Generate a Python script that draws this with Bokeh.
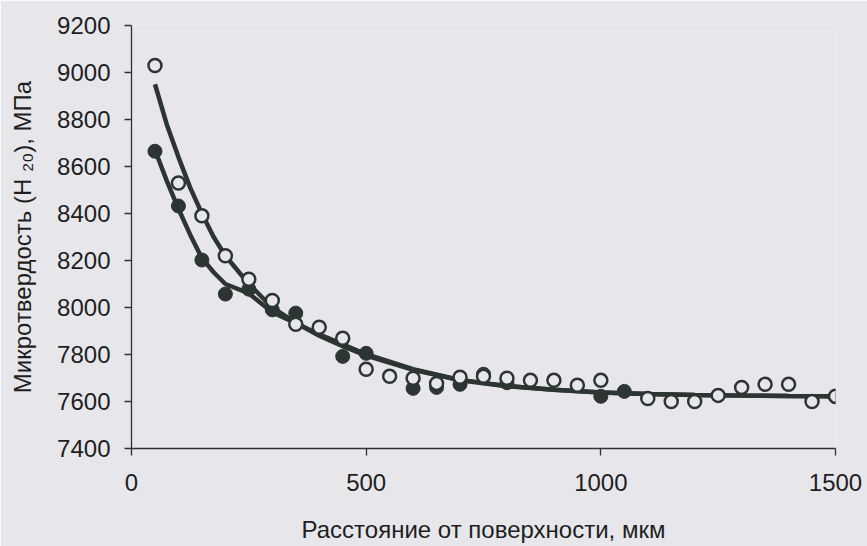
from bokeh.plotting import figure
from bokeh.models import Range1d, FixedTicker
from bokeh.embed import file_html
from bokeh.resources import INLINE

# Open circles (measured values)
open_x = [50, 100, 150, 200, 250, 300, 350, 400, 450, 500, 550, 600, 650, 700, 750,
          800, 850, 900, 950, 1000, 1100, 1150, 1200, 1250, 1300, 1350, 1400, 1450, 1500]
open_y = [9030, 8530, 8390, 8220, 8120, 8030, 7929, 7916, 7869, 7737, 7707, 7699, 7677, 7703, 7707,
          7699, 7690, 7690, 7669, 7690, 7613, 7600, 7600, 7626, 7660, 7673, 7673, 7600, 7622]

# Filled circles
fill_x = [50, 100, 150, 200, 250, 300, 350, 450, 500, 600, 650, 700, 750, 800, 1000, 1050, 1500]
fill_y = [8665, 8432, 8202, 8057, 8078, 7990, 7976, 7792, 7805, 7656, 7660, 7673, 7716, 7680, 7622, 7643, 7620]

# Fitted curves
curve_x = [50, 75, 100, 125, 150, 175, 200, 250, 300, 350, 400, 450, 500, 600, 700,
           800, 900, 1000, 1100, 1200, 1300, 1400, 1500]
upper_y = [8950, 8780, 8640, 8510, 8400, 8300, 8220, 8100, 8000, 7935, 7880, 7835, 7795, 7735, 7690,
           7665, 7650, 7638, 7632, 7628, 7625, 7623, 7622]
lower_y = [8670, 8540, 8420, 8310, 8210, 8150, 8100, 8060, 7980, 7933, 7886, 7843, 7801, 7738, 7692,
           7666, 7650, 7638, 7632, 7628, 7625, 7623, 7622]

x_ticks = [0, 500, 1000, 1500]
y_ticks = [7400, 7600, 7800, 8000, 8200, 8400, 8600, 8800, 9000, 9200]

BG = "#e7e7eb"
INK = "#2c3533"
TXT = "#1e1e1e"
FONT = "Liberation Sans"

p = figure(width=867, height=546, output_backend="svg", toolbar_location=None,
           x_range=Range1d(0, 1500), y_range=Range1d(7400, 9200),
           min_border_left=131, min_border_right=32, min_border_top=25, min_border_bottom=98)
p.background_fill_color = BG
p.border_fill_color = BG
p.outline_line_color = None
p.grid.visible = False

p.line(curve_x, upper_y, line_color=INK, line_width=4.5)
p.line(curve_x, lower_y, line_color=INK, line_width=4.5)
p.scatter(fill_x, fill_y, marker="circle", size=14, fill_color=INK, line_color=INK, line_width=1)
p.scatter(open_x, open_y, marker="circle", size=13, fill_color=BG, line_color=INK, line_width=2.5)

xa = p.xaxis[0]
xa.ticker = FixedTicker(ticks=x_ticks)
xa.axis_label = "Расстояние от поверхности, мкм"
ya = p.yaxis[0]
ya.ticker = FixedTicker(ticks=y_ticks)
ya.axis_label = "Микротвердость (H ₂₀), МПа"

for ax in (xa, ya):
    ax.axis_line_color = "#303030"
    ax.axis_line_width = 1.3
    ax.major_tick_line_color = "#303030"
    ax.major_tick_line_width = 1.3
    ax.major_tick_in = 0
    ax.major_tick_out = 7
    ax.minor_tick_line_color = None
    ax.major_label_text_font = FONT
    ax.major_label_text_font_size = "24px"
    ax.major_label_text_color = TXT
    ax.axis_label_text_font = FONT
    ax.axis_label_text_font_size = "24px"
    ax.axis_label_text_font_style = "normal"
    ax.axis_label_text_color = TXT

xa.major_label_standoff = 18
xa.axis_label_standoff = 22
ya.major_label_standoff = 14
ya.axis_label_standoff = 18

open("out.html", "w").write(file_html(p, INLINE))
